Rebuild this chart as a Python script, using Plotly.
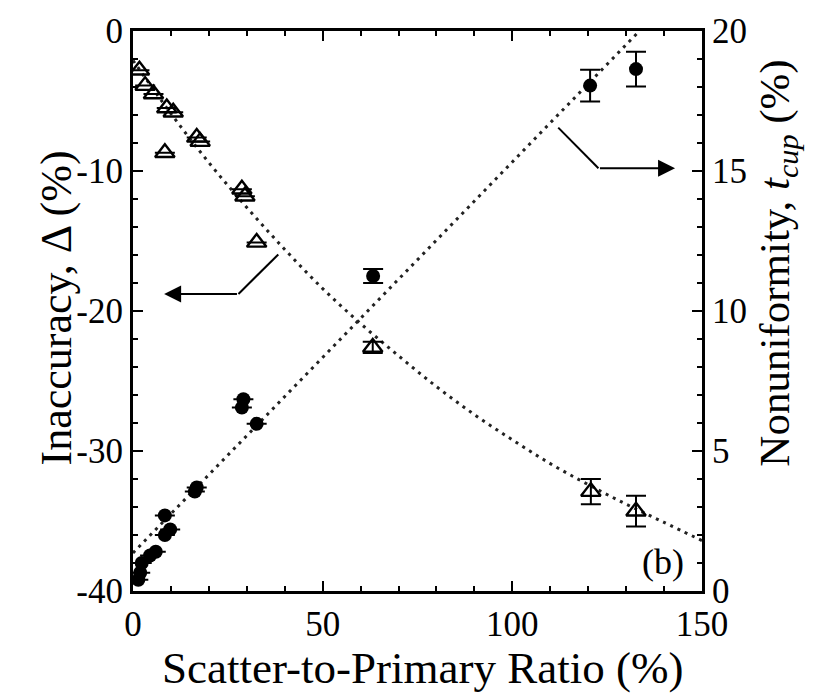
import plotly.graph_objects as go

# Inaccuracy (triangles, left axis)
tri_x = [1.7, 3.2, 5.4, 8.9, 10.6, 8.4, 16.8, 17.7, 28.7, 29.5, 32.6, 63.2, 120.7, 132.6]
tri_y = [-2.8, -3.9, -4.5, -5.5, -5.8, -8.7, -7.6, -7.9, -11.3, -11.8, -15.1, -22.6, -32.9, -34.3]
tri_err = [None, None, None, None, None, None, None, None, None, None, None, 0.4, 0.9, 1.1]

# Nonuniformity (filled circles, right axis)
cir_x = [1.4, 1.9, 2.3, 4.5, 6.0, 8.4, 9.8, 8.4, 16.3, 16.8, 28.7, 29.1, 32.6, 63.3, 120.5, 132.6]
cir_y = [0.4, 0.65, 1.0, 1.27, 1.4, 2.0, 2.2, 2.7, 3.55, 3.7, 6.55, 6.85, 5.97, 11.25, 18.05, 18.64]
cir_err = [None, None, None, None, None, None, None, None, None, None, None, None, None, 0.25, 0.57, 0.62]

# Dotted fit curves
fit_tri_x = [0, 10, 20, 30, 40, 50, 60, 70, 80, 90, 100, 110, 120, 130, 140, 150]
fit_tri_y = [-2.1, -5.9, -9.4, -12.6, -15.6, -18.4, -20.9, -23.2, -25.4, -27.4, -29.2, -30.9, -32.4, -33.8, -35.1, -36.4]
fit_cir_x = [0, 133.5]
fit_cir_y = [1.36, 20.0]

# Arrow paths
left_arrow_x = [38.3, 27.8, 8.2]
left_arrow_y = [-15.96, -18.78, -18.78]
right_arrow_x = [112.1, 122.7, 142.9]
right_arrow_y = [16.55, 15.1, 15.1]

# Tick labels
x_ticks = [0, 50, 100, 150]
y_ticks = [-40, -30, -20, -10, 0]
y_ticklabels = ["-40", "-30", "-20", "-10", "0"]
y2_ticks = [0, 5, 10, 15, 20]

FONT = "Liberation Serif"
fig = go.Figure()

dotted = dict(color="#222", width=3, dash="3px,5px")
fig.add_trace(go.Scatter(x=fit_tri_x, y=fit_tri_y, mode="lines", line=dotted,
                         yaxis="y", showlegend=False, line_shape="spline"))
fig.add_trace(go.Scatter(x=fit_cir_x, y=fit_cir_y, mode="lines", line=dotted,
                         yaxis="y2", showlegend=False))

fig.add_trace(go.Scatter(x=tri_x, y=tri_y, mode="markers", yaxis="y",
                         marker=dict(symbol="triangle-up-open", size=17, color="black",
                                     line=dict(width=2.4, color="black")),
                         error_y=dict(type="data", array=tri_err, visible=True,
                                      color="black", thickness=2, width=10),
                         showlegend=False))
fig.add_trace(go.Scatter(x=cir_x, y=cir_y, mode="markers", yaxis="y2",
                         marker=dict(symbol="circle", size=14, color="black"),
                         error_y=dict(type="data", array=cir_err, visible=True,
                                      color="black", thickness=2, width=10),
                         showlegend=False))

# arrows: bent line + arrow head
fig.add_trace(go.Scatter(x=left_arrow_x[:2], y=left_arrow_y[:2], mode="lines", yaxis="y",
                         line=dict(color="black", width=2), showlegend=False))
fig.add_trace(go.Scatter(x=right_arrow_x[:2], y=right_arrow_y[:2], mode="lines", yaxis="y2",
                         line=dict(color="black", width=2), showlegend=False))
fig.add_annotation(x=left_arrow_x[2], y=left_arrow_y[2], ax=left_arrow_x[1], ay=left_arrow_y[1],
                   xref="x", yref="y", axref="x", ayref="y", showarrow=True,
                   arrowhead=2, arrowsize=1.7, arrowwidth=2, arrowcolor="black", text="")
fig.add_annotation(x=right_arrow_x[2], y=right_arrow_y[2], ax=right_arrow_x[1], ay=right_arrow_y[1],
                   xref="x", yref="y2", axref="x", ayref="y2", showarrow=True,
                   arrowhead=2, arrowsize=1.7, arrowwidth=2, arrowcolor="black", text="")

fig.add_annotation(x=139.7, y=1.05, xref="x", yref="y2", text="(b)", showarrow=False,
                   font=dict(family=FONT, size=36, color="black"))

# axis titles
fig.add_annotation(x=0.508, y=-0.186, xref="paper", yref="paper",
                   xanchor="center", yanchor="bottom",
                   text="Scatter-to-Primary Ratio (%)", showarrow=False,
                   font=dict(family=FONT, size=45, color="black"))
fig.add_annotation(x=-0.135, y=0.505, xref="paper", yref="paper", textangle=-90,
                   xanchor="center", yanchor="middle",
                   text="Inaccuracy, Δ (%)", showarrow=False,
                   font=dict(family=FONT, size=44, color="black"))
fig.add_annotation(x=1.134, y=0.585, xref="paper", yref="paper", textangle=-90,
                   xanchor="center", yanchor="middle",
                   text="Nonuniformity, <i>t</i><sub><i>cup</i></sub> (%)", showarrow=False,
                   font=dict(family=FONT, size=43, color="black"))

tickfont = dict(family=FONT, size=35, color="black")
common = dict(showgrid=False, zeroline=False, showline=True, linecolor="black",
              linewidth=3, ticks="inside", tickcolor="black", tickwidth=2, ticklen=10,
              tickfont=tickfont)

fig.update_layout(
    width=827, height=696,
    margin=dict(l=133, r=125, t=23, b=105),
    paper_bgcolor="white", plot_bgcolor="white",
    xaxis=dict(range=[0, 150], tickvals=x_ticks, mirror="ticks", ticklabelstandoff=0,
               minor=dict(dtick=10, ticks="inside", ticklen=5, tickcolor="black", tickwidth=1.5),
               **common),
    yaxis=dict(range=[-40, 0], tickvals=y_ticks, ticktext=y_ticklabels,
               minor=dict(dtick=2, ticks="inside", ticklen=5, tickcolor="black", tickwidth=1.5),
               **common),
    yaxis2=dict(range=[0, 20], tickvals=y2_ticks, overlaying="y", side="right",
                minor=dict(dtick=1, ticks="inside", ticklen=5, tickcolor="black", tickwidth=1.5),
                **common),
)

fig.write_html("out.html")
